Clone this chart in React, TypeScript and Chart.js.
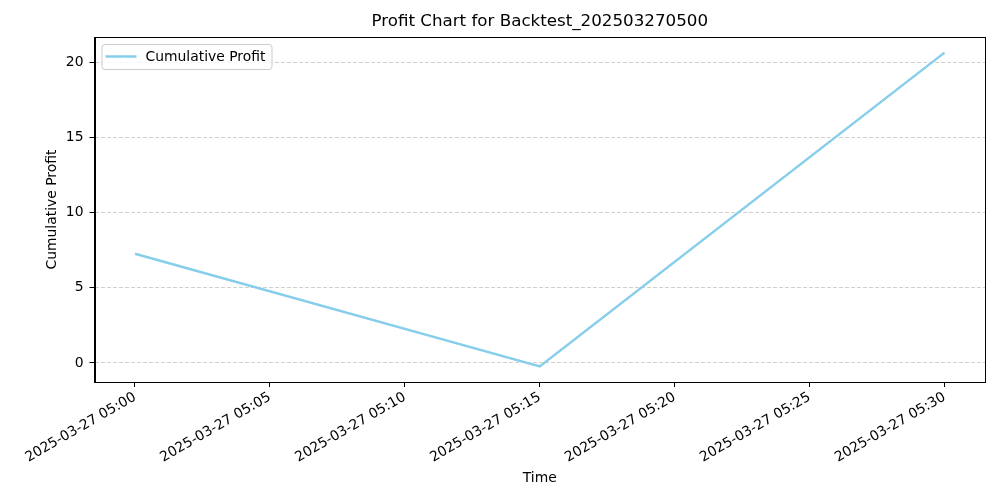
import { useEffect, useRef } from "react";
import { Chart, registerables, type ChartOptions, type Plugin } from "chart.js";

Chart.register(...registerables);

const titleText = "Profit Chart for Backtest_202503270500";
const times = ["2025-03-27 05:00", "2025-03-27 05:15", "2025-03-27 05:30"];
const profit = [7.27, -0.23, 20.65];
const xTickLabels = [
  "2025-03-27 05:00",
  "2025-03-27 05:05",
  "2025-03-27 05:10",
  "2025-03-27 05:15",
  "2025-03-27 05:20",
  "2025-03-27 05:25",
  "2025-03-27 05:30",
];
const yTicks = [0, 5, 10, 15, 20];

const FONT = "'DejaVu Sans', sans-serif";
const LINE = "#87ceeb";

// minutes since the first tick label
const toMin = (s: string) => {
  const t = s.slice(11).split(":");
  return Number(t[0]) * 60 + Number(t[1]) - 300;
};
const xTicks = xTickLabels.map(toMin);

// frame, title and legend drawn the way matplotlib does them
const decor: Plugin<"line"> = {
  id: "decor",
  afterDraw(chart) {
    const { ctx, chartArea: a } = chart;
    ctx.save();
    ctx.strokeStyle = "#000";
    ctx.lineWidth = 1;
    ctx.strokeRect(Math.round(a.left) + 0.5, Math.round(a.top) + 0.5, Math.round(a.right - a.left) - 1, Math.round(a.bottom - a.top));

    ctx.fillStyle = "#000";
    ctx.font = `16.7px ${FONT}`;
    ctx.textAlign = "center";
    ctx.textBaseline = "middle";
    ctx.fillText(titleText, (a.left + a.right) / 2, 22);

    const lx = a.left + 7, ly = a.top + 7, lw = 170, lh = 25;
    ctx.beginPath();
    ctx.roundRect(lx + 0.5, ly + 0.5, lw, lh, 3);
    ctx.fillStyle = "rgba(255,255,255,0.8)";
    ctx.fill();
    ctx.strokeStyle = "#cccccc";
    ctx.stroke();

    ctx.beginPath();
    ctx.strokeStyle = LINE;
    ctx.lineWidth = 2.5;
    ctx.moveTo(lx + 4, ly + 12.5);
    ctx.lineTo(lx + 35, ly + 12.5);
    ctx.stroke();

    ctx.fillStyle = "#000";
    ctx.font = `13.9px ${FONT}`;
    ctx.textAlign = "left";
    ctx.fillText(String(chart.data.datasets[0].label), lx + 44, ly + 13);
    ctx.restore();
  },
};

export default function App() {
  const canvasRef = useRef<HTMLCanvasElement | null>(null);

  useEffect(() => {
    if (!canvasRef.current) return;
    const options: ChartOptions<"line"> = {
      responsive: false,
      animation: false,
      devicePixelRatio: 1,
      layout: { padding: { top: 37, right: 15, bottom: 0, left: 0 } },
      plugins: { legend: { display: false }, title: { display: false }, tooltip: { enabled: false } },
      scales: {
        x: {
          type: "linear",
          min: -1.5,
          max: 31.5,
          afterBuildTicks: (s) => { s.ticks = xTicks.map((v) => ({ value: v })); },
          afterFit: (s) => { s.height = 118; },
          grid: { drawOnChartArea: false, drawTicks: true, tickLength: 5, tickColor: "#000" },
          border: { display: true, color: "#000" },
          ticks: {
            color: "#000",
            font: { family: FONT, size: 13.9 },
            minRotation: 30,
            maxRotation: 30,
            autoSkip: false,
            padding: 2,
            callback: (v) => xTickLabels[xTicks.indexOf(Number(v))] ?? "",
          },
          title: { display: true, text: "Time", color: "#000", font: { family: FONT, size: 13.9 }, padding: { top: 0, bottom: 13 } },
        },
        y: {
          min: -1.27,
          max: 21.69,
          afterBuildTicks: (s) => { s.ticks = yTicks.map((v) => ({ value: v })); },
          afterFit: (s) => { s.width = 94.5; },
          grid: { color: "rgba(176,176,176,0.6)", tickLength: 5, tickColor: "#000", lineWidth: 1 },
          border: { display: true, color: "#000", dash: [4, 2] },
          ticks: { color: "#000", font: { family: FONT, size: 13.9 }, padding: 6 },
          title: { display: true, text: "Cumulative Profit", color: "#000", font: { family: FONT, size: 13.9 }, padding: { top: 44.5, bottom: 0 } },
        },
      },
    };
    const chart = new Chart(canvasRef.current, {
      type: "line",
      data: {
        datasets: [{
          label: "Cumulative Profit",
          data: times.map((t, i) => ({ x: toMin(t), y: profit[i] })),
          borderColor: LINE,
          backgroundColor: LINE,
          borderWidth: 2.5,
          pointRadius: 0,
          tension: 0,
        }],
      },
      options,
      plugins: [decor],
    });
    return () => chart.destroy();
  }, []);

  return (
    <div style={{ width: 1000, height: 500, margin: -8, background: "#fff" }}>
      <canvas ref={canvasRef} width={1000} height={500} style={{ display: "block" }} />
    </div>
  );
}
